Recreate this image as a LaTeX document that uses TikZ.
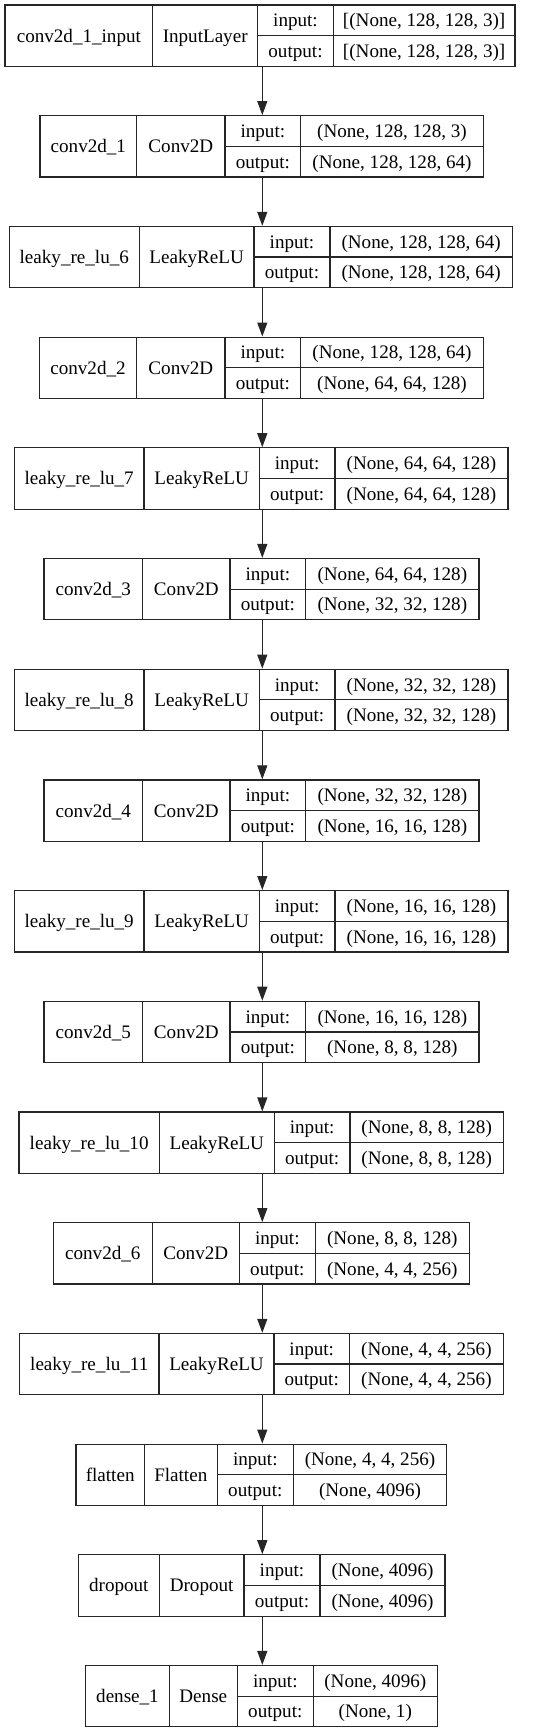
\documentclass[tikz,border=0pt]{standalone}
\usepackage{fontspec}
\setmainfont{Liberation Serif}
\usetikzlibrary{arrows.meta}
\begin{document}
\begin{tikzpicture}[x=1pt,y=-1pt,
  ln/.style={line width=1.2pt, draw=black!85},
  box/.style={ln, rectangle, inner sep=0pt, minimum height=61.3pt},
  txt/.style={anchor=base, inner sep=0pt, font=\fontsize{19.1}{22}\selectfont},
  arr/.style={ln, -{Triangle[length=14pt,width=10pt]}}]
\fill[white] (0,0) rectangle (533,1733);
\useasboundingbox (0,0) rectangle (533,1733);
\coordinate (X) at (262.3,0);
\foreach \i/\xa/\xb/\xc/\xd/\xe/\nm/\ty/\ip/\op in {
 0/5/152.7/257.7/333.3/515/conv2d\_1\_input/InputLayer/{[(None, 128, 128, 3)]}/{[(None, 128, 128, 3)]},
 1/40/136.7/225/300.7/483.3/conv2d\_1/Conv2D/{(None, 128, 128, 3)}/{(None, 128, 128, 64)},
 2/9.3/139.3/254/330/512.3/leaky\_re\_lu\_6/LeakyReLU/{(None, 128, 128, 64)}/{(None, 128, 128, 64)},
 3/39.3/136.7/225/300.7/483.3/conv2d\_2/Conv2D/{(None, 128, 128, 64)}/{(None, 64, 64, 128)},
 4/14.3/144/259.3/335/508/leaky\_re\_lu\_7/LeakyReLU/{(None, 64, 64, 128)}/{(None, 64, 64, 128)},
 5/44/142.7/230/305.7/479/conv2d\_3/Conv2D/{(None, 64, 64, 128)}/{(None, 32, 32, 128)},
 6/14.3/144/259.3/335/508/leaky\_re\_lu\_8/LeakyReLU/{(None, 32, 32, 128)}/{(None, 32, 32, 128)},
 7/44/142.7/230/305.7/479/conv2d\_4/Conv2D/{(None, 32, 32, 128)}/{(None, 16, 16, 128)},
 8/14.3/144/259.3/335/508/leaky\_re\_lu\_9/LeakyReLU/{(None, 16, 16, 128)}/{(None, 16, 16, 128)},
 9/44/142.7/230/305.7/479/conv2d\_5/Conv2D/{(None, 16, 16, 128)}/{(None, 8, 8, 128)},
 10/19/159.3/274.3/350/503.3/leaky\_re\_lu\_10/LeakyReLU/{(None, 8, 8, 128)}/{(None, 8, 8, 128)},
 11/53.3/152.3/239.3/315.3/469.3/conv2d\_6/Conv2D/{(None, 8, 8, 128)}/{(None, 4, 4, 256)},
 12/19.5/159/274/349.5/503.3/leaky\_re\_lu\_11/LeakyReLU/{(None, 4, 4, 256)}/{(None, 4, 4, 256)},
 13/76/144.3/217.3/293.3/446.7/flatten/Flatten/{(None, 4, 4, 256)}/{(None, 4096)},
 14/78.3/159.3/244/320/445/dropout/Dropout/{(None, 4096)}/{(None, 4096)},
 15/85.7/169.3/237.3/313.3/437.3/dense\_1/Dense/{(None, 4096)}/{(None, 1)}}{
  \pgfmathsetmacro\t{5+110.7*\i}
  \pgfmathsetmacro\bt{\t+61.3}
  \pgfmathsetmacro\mi{\t+30.65}
  \node[box, draw, minimum width={(\xe-\xa)*1pt}] (L\i) at ({(\xa+\xe)/2},\mi) {};
  \draw[ln] (\xb,\t) -- (\xb,\bt) (\xc,\t) -- (\xc,\bt) (\xd,\t) -- (\xd,\bt) (\xc,\mi) -- (\xe,\mi);
  \node[txt] (N\i) at ({(\xa+\xb)/2},{\mi+6.5}) {\nm};
  \node[txt] (T\i) at ({(\xb+\xc)/2},{\mi+6.5}) {\ty};
  \node[txt] (I\i) at ({(\xc+\xd)/2},{\t+15.3+6.5}) {input:};
  \node[txt] (O\i) at ({(\xc+\xd)/2},{\mi+15.3+6.5}) {output:};
  \node[txt] (IV\i) at ({(\xd+\xe)/2},{\t+15.3+6.5}) {\ip};
  \node[txt] (OV\i) at ({(\xd+\xe)/2},{\mi+15.3+6.5}) {\op};
}
\foreach \i in {0,...,14}{
  \pgfmathtruncatemacro\j{\i+1}
  \draw[arr] (L\i.south -| X) -- (L\j.north -| X);
}
\end{tikzpicture}
\end{document}
